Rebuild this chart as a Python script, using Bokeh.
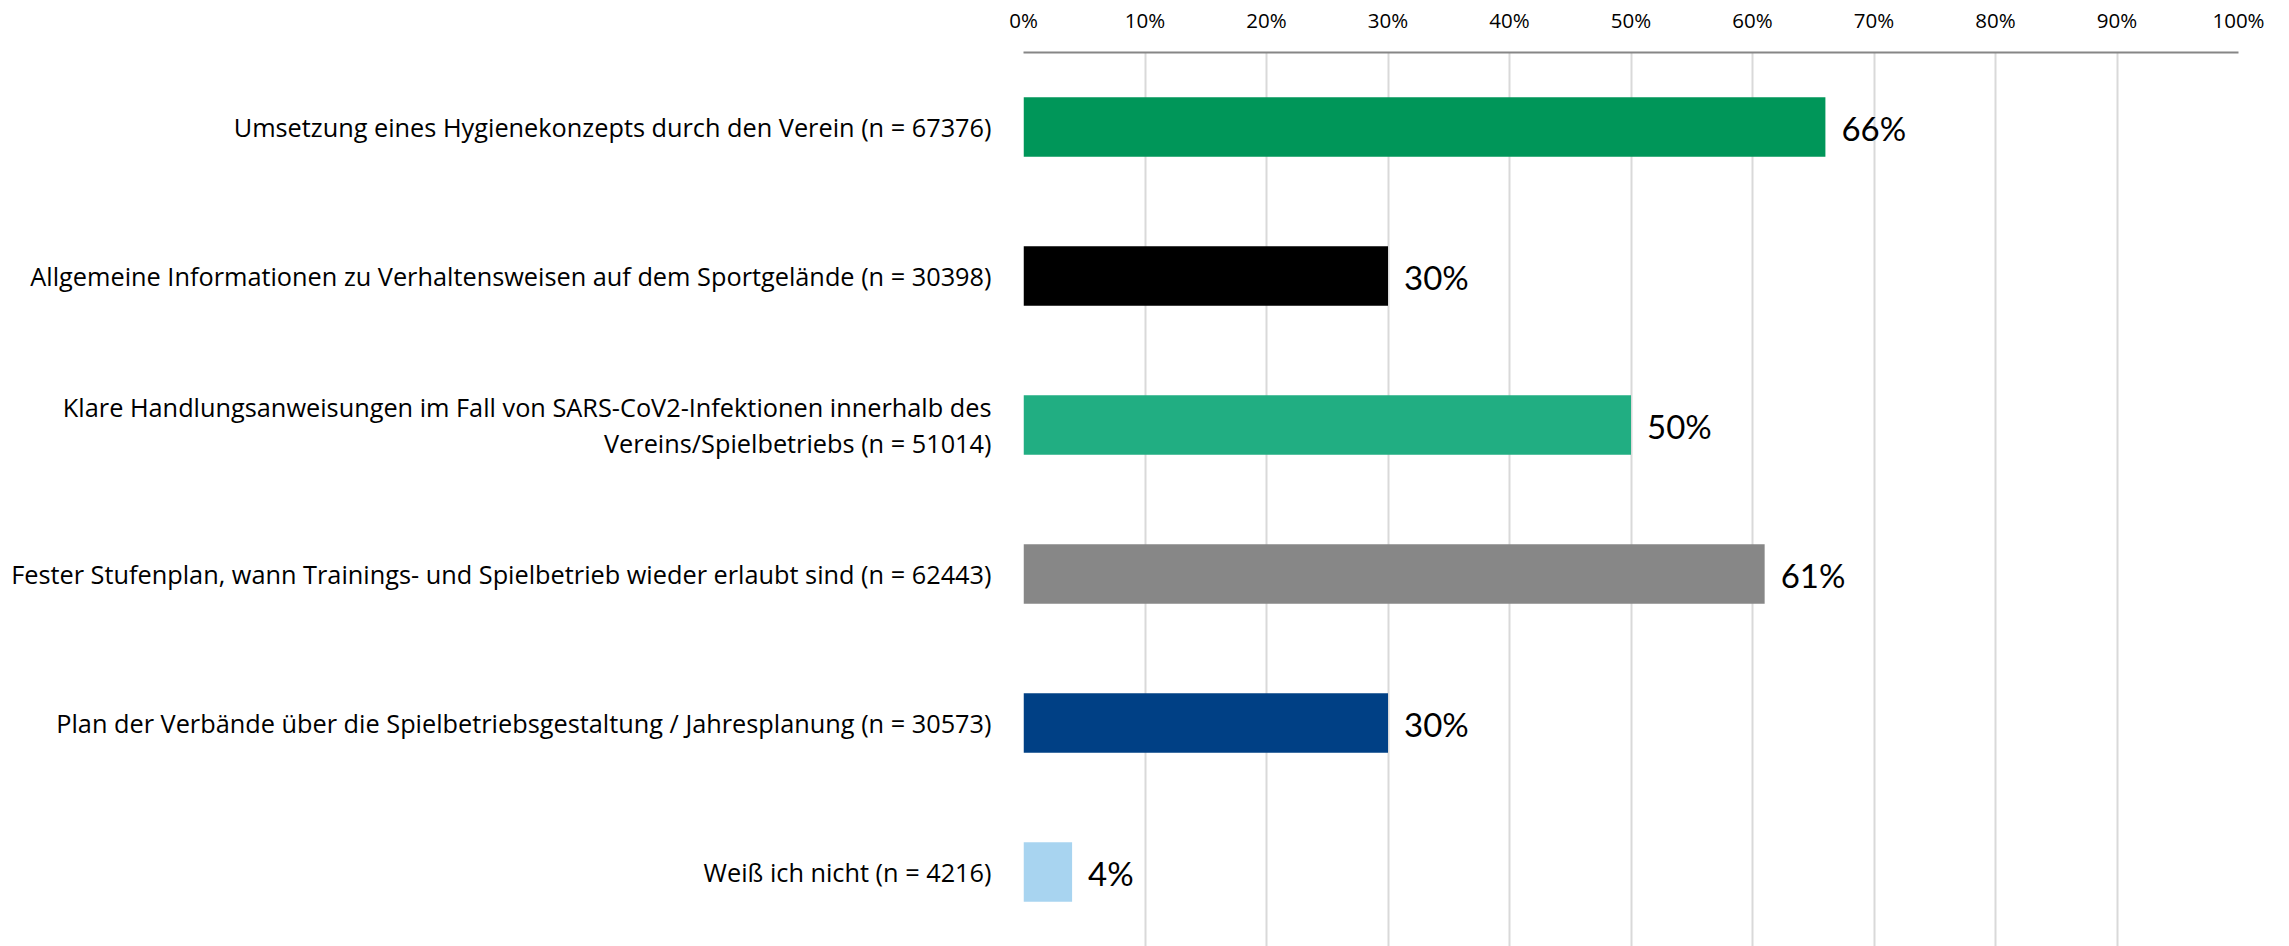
from bokeh.plotting import figure
from bokeh.models import Range1d, FactorRange, FixedTicker, NumeralTickFormatter, ColumnDataSource
from bokeh.embed import file_html
from bokeh.resources import INLINE
from bokeh.core.properties import value

categories = [
    "Umsetzung eines Hygienekonzepts durch den Verein (n = 67376)",
    "Allgemeine Informationen zu Verhaltensweisen auf dem Sportgelände (n = 30398)",
    "Klare Handlungsanweisungen im Fall von SARS-CoV2-Infektionen innerhalb des\nVereins/Spielbetriebs (n = 51014)",
    "Fester Stufenplan, wann Trainings- und Spielbetrieb wieder erlaubt sind (n = 62443)",
    "Plan der Verbände über die Spielbetriebsgestaltung / Jahresplanung (n = 30573)",
    "Weiß ich nicht (n = 4216)",
]
values = [0.66, 0.30, 0.50, 0.61, 0.30, 0.04]
value_labels = ["66%", "30%", "50%", "61%", "30%", "4%"]
colors = ["#009659", "#000000", "#21AE82", "#878787", "#004085", "#A8D4F0"]
x_ticks = [0.0, 0.1, 0.2, 0.3, 0.4, 0.5, 0.6, 0.7, 0.8, 0.9, 1.0]

src = ColumnDataSource(dict(cat=categories, val=values, lab=value_labels, col=colors))

p = figure(
    width=2289, height=946,
    y_range=FactorRange(factors=list(reversed(categories))),
    x_range=Range1d(0, 1),
    x_axis_location="above",
    output_backend="svg", toolbar_location=None,
    min_border_left=1023, min_border_right=51, min_border_top=52, min_border_bottom=0,
)
p.outline_line_color = None
p.background_fill_color = "white"

p.hbar(y="cat", right="val", left=0, height=0.4, fill_color="col", line_color=None, source=src)
p.text(x="val", y="cat", text="lab", source=src, x_offset=16, y_offset=1,
       text_baseline="middle", text_align="left",
       text_font=value("Lato"), text_font_size="33px", text_color="#000000")

xa = p.xaxis[0]
xa.ticker = FixedTicker(ticks=x_ticks)
xa.formatter = NumeralTickFormatter(format="0%")
xa.major_tick_line_color = None
xa.minor_tick_line_color = None
xa.axis_line_color = "#868686"
xa.axis_line_width = 2
xa.major_label_text_font = "Open Sans"
xa.major_label_text_font_size = "20.5px"
xa.major_label_text_color = "#000000"
xa.major_label_standoff = 13

ya = p.yaxis[0]
ya.axis_line_color = None
ya.major_tick_line_color = None
ya.minor_tick_line_color = None
ya.major_label_text_font = "Open Sans"
ya.major_label_text_font_size = "25.3px"
ya.major_label_text_color = "#000000"
ya.major_label_text_line_height = 1.08
ya.major_label_standoff = 26

p.xgrid.grid_line_color = "#D9D9D9"
p.xgrid.grid_line_width = 2
p.xgrid.ticker = FixedTicker(ticks=x_ticks)
p.ygrid.grid_line_color = None

open("out.html", "w").write(file_html(p, INLINE))
